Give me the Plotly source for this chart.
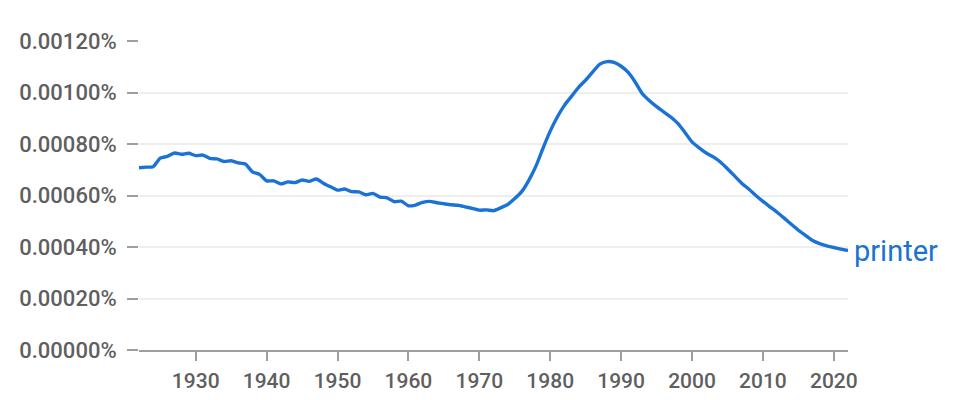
import plotly.graph_objects as go

years = list(range(1922, 2023))
printer = [
    0.000708, 0.000710, 0.000712, 0.000745, 0.000752, 0.000765, 0.000760, 0.000764,
    0.000755, 0.000757, 0.000744, 0.000742, 0.000732, 0.000735, 0.000727, 0.000722,
    0.000692, 0.000682, 0.000657, 0.000657, 0.000645, 0.000653, 0.000650, 0.000660,
    0.000655, 0.000664, 0.000648, 0.000634, 0.000621, 0.000625, 0.000615, 0.000614,
    0.000603, 0.000608, 0.000594, 0.000591, 0.000576, 0.000578, 0.000560, 0.000563,
    0.000573, 0.000577, 0.000572, 0.000568, 0.000564, 0.000562, 0.000556, 0.000550,
    0.000543, 0.000544, 0.000541, 0.000552, 0.000565, 0.000588, 0.000616, 0.000660,
    0.000715, 0.000785, 0.000850, 0.000905, 0.000950, 0.000985, 0.001020, 0.001048,
    0.001080, 0.001110, 0.001120, 0.001117, 0.001102, 0.001078, 0.001040, 0.000995,
    0.000968, 0.000945, 0.000925, 0.000905, 0.000880, 0.000845, 0.000808, 0.000785,
    0.000765, 0.000750, 0.000730, 0.000704, 0.000676, 0.000648, 0.000625, 0.000600,
    0.000577, 0.000556, 0.000535, 0.000512, 0.000488, 0.000465, 0.000445, 0.000425,
    0.000413, 0.000404, 0.000398, 0.000392, 0.000386,
]
series_name = "printer"
x_ticks = [1930, 1940, 1950, 1960, 1970, 1980, 1990, 2000, 2010, 2020]
y_ticks = [0, 0.0002, 0.0004, 0.0006, 0.0008, 0.0010, 0.0012]
y_tick_labels = ["0.00000%", "0.00020%", "0.00040%", "0.00060%",
                 "0.00080%", "0.00100%", "0.00120%"]

blue = "#1a73d4"
grey_text = "#5f5f5f"
axis_grey = "#9e9e9e"

fig = go.Figure()
fig.add_trace(go.Scatter(
    x=years, y=printer, mode="lines", name=series_name,
    line=dict(color=blue, width=3.4, shape="spline", smoothing=0.6),
    hoverinfo="skip",
))
fig.add_annotation(
    x=years[-1], y=printer[-1], text=series_name, showarrow=False,
    xanchor="left", yanchor="middle", xshift=4, yshift=0,
    font=dict(family="Roboto", size=29, color=blue),
)
fig.update_layout(
    width=956, height=400,
    margin=dict(l=131, r=116, t=33, b=58),
    paper_bgcolor="white", plot_bgcolor="white",
    showlegend=False,
    font=dict(family="Roboto", color=grey_text),
)
fig.update_xaxes(
    range=[1922, 2022], tickvals=x_ticks,
    showgrid=False, zeroline=False,
    showline=True, linecolor=axis_grey, linewidth=2,
    ticks="outside", ticklen=9, tickwidth=2, tickcolor=axis_grey,
    tickfont=dict(family="Roboto", size=21, color=grey_text, weight=500),
    ticklabelstandoff=2,
)
fig.update_yaxes(
    range=[0, 0.0012], tickmode="array", tickvals=y_ticks, ticktext=y_tick_labels,
    showgrid=True, gridcolor="#eeeeee", gridwidth=2, zeroline=False,
    showline=False,
    ticks="outside", ticklen=11, tickwidth=2, tickcolor=axis_grey,
    tickfont=dict(family="Roboto", size=22, color=grey_text, weight=500),
    ticklabelstandoff=6,
)
fig.write_html("out.html")
